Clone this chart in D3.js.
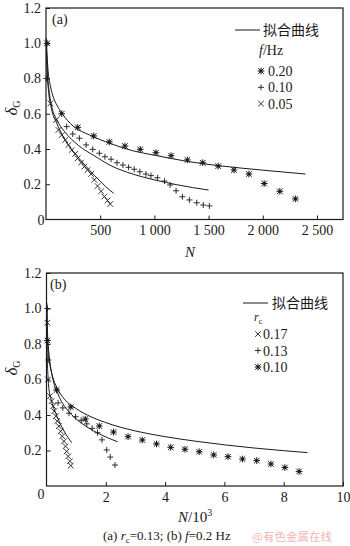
<!DOCTYPE html>
<html>
<head>
<meta charset="utf-8">
<script src="https://cdn.jsdelivr.net/npm/d3@7"></script>
<style>
  body { margin: 0; background: #fff; }
  svg { display: block; font-family: "Liberation Serif", "Times New Roman", serif; }
</style>
</head>
<body>
<svg id="chart" width="350" height="546"></svg>
<script>
// ---- Panel (a): r_c = 0.13, three loading frequencies (N in cycles) ----
const freqLabels = ["0.20", "0.10", "0.05"];
const ptsF020 = [[10,1.00],[145,0.60],[293,0.523],[440,0.474],[584,0.44],[728,0.417],[869,0.398],
  [1014,0.379],[1154,0.362],[1304,0.338],[1446,0.322],[1589,0.303],[1734,0.281],[1872,0.258],
  [2013,0.204],[2157,0.16],[2301,0.117]];
const ptsF010 = [[3,0.80],[191,0.527],[247,0.485],[308,0.461],[370,0.423],[431,0.398],[492,0.376],
  [544,0.356],[600,0.342],[655,0.322],[710,0.309],[762,0.296],[814,0.285],[866,0.271],[922,0.258],
  [968,0.249],[1028,0.237],[1093,0.218],[1145,0.196],[1200,0.163],[1258,0.129],[1323,0.111],
  [1391,0.095],[1451,0.082],[1507,0.077]];
const ptsF005 = [[41,0.659],[94,0.565],[115,0.508],[145,0.479],[177,0.451],[207,0.423],[237,0.394],
  [269,0.372],[292,0.347],[324,0.323],[354,0.300],[384,0.281],[416,0.258],[446,0.225],[476,0.19],
  [508,0.16],[538,0.13],[568,0.108],[593,0.088]];
const fitF020 = [[3,1.03],[5,1.0],[10,0.93],[20,0.84],[40,0.76],[70,0.69],[100,0.65],[150,0.60],
  [250,0.53],[400,0.48],[600,0.43],[800,0.39],[1000,0.365],[1300,0.33],[1600,0.305],[2000,0.28],[2393,0.258]];
const fitF010 = [[3,1.0],[10,0.87],[25,0.75],[50,0.65],[100,0.565],[170,0.50],[300,0.42],[450,0.36],
  [600,0.305],[750,0.268],[900,0.24],[1000,0.225],[1200,0.198],[1500,0.167]];
const fitF005 = [[3,1.0],[10,0.85],[25,0.72],[50,0.63],[100,0.545],[150,0.48],[200,0.43],[300,0.35],
  [350,0.315],[400,0.28],[450,0.248],[500,0.218],[550,0.187],[624,0.149]];
const ticksA = [500, 1000, 1500, 2000, 2500];

// ---- Panel (b): f = 0.2 Hz, three stress ratios (N in 10^3 cycles) ----
const rcLabels = ["0.17", "0.13", "0.10"];
const ptsR017 = [[0.03,0.92],[0.05,0.60],[0.115,0.507],[0.172,0.478],[0.226,0.45],[0.26,0.421],
  [0.317,0.393],[0.361,0.365],[0.418,0.337],[0.476,0.308],[0.53,0.28],[0.587,0.252],[0.644,0.224],
  [0.68,0.195],[0.73,0.167],[0.79,0.139],[0.82,0.115]];
const ptsR013 = [[0.03,1.0],[0.06,0.71],[0.39,0.468],[0.55,0.44],[0.76,0.41],[0.98,0.39],[1.17,0.37],
  [1.36,0.35],[1.54,0.325],[1.72,0.30],[1.87,0.26],[2.03,0.203],[2.15,0.163],[2.31,0.118]];
const ptsR010 = [[0.03,0.82],[0.34,0.541],[0.82,0.445],[1.31,0.377],[1.78,0.338],[2.26,0.304],
  [2.75,0.278],[3.23,0.259],[3.71,0.237],[4.19,0.218],[4.67,0.207],[5.15,0.193],[5.64,0.175],
  [6.12,0.165],[6.61,0.152],[7.09,0.143],[7.57,0.124],[8.04,0.104],[8.52,0.082]];
const fitR010 = [[0.007,1.0],[0.02,0.88],[0.05,0.78],[0.1,0.70],[0.2,0.62],[0.35,0.555],[0.6,0.49],
  [1.0,0.436],[1.5,0.39],[2,0.357],[3,0.31],[4,0.278],[5,0.253],[6,0.232],[7,0.214],[8,0.199],[8.8,0.188]];
const fitR013 = [[0.012,1.03],[0.03,0.89],[0.06,0.79],[0.1,0.72],[0.2,0.615],[0.4,0.513],[0.7,0.43],
  [1.0,0.378],[1.4,0.329],[1.8,0.292],[2.1,0.269],[2.4,0.249]];
const fitR017 = [[0.005,1.0],[0.015,0.83],[0.03,0.70],[0.05,0.62],[0.08,0.55],[0.17,0.48],[0.36,0.39],
  [0.59,0.31],[0.85,0.244]];
const ticksB = [2, 4, 6, 8, 10];

const yTicks = [0.2, 0.4, 0.6, 0.8, 1.0, 1.2];

const INK = "#1a1a1a";
const svg = d3.select("#chart");

// marker glyphs
const glyph = {
  plus: s => `M${-s},0H${s}M0,${-s}V${s}`,
  cross: s => `M${-s},${-s}L${s},${s}M${-s},${s}L${s},${-s}`,
  star: s => `M${-s},${-s}L${s},${s}M${-s},${s}L${s},${-s}M${-s*1.2},0H${s*1.2}M0,${-s*1.2}V${s*1.2}`
};

function drawMarker(g, type, x, y) {
  if (type === "star") {
    g.append("path").attr("d", glyph.star(2.8)).attr("transform", `translate(${x},${y})`)
      .attr("stroke", INK).attr("stroke-width", 1).attr("fill", "none");
    g.append("rect").attr("x", x - 1.3).attr("y", y - 1.3).attr("width", 2.6).attr("height", 2.6).attr("fill", INK);
  } else {
    g.append("path").attr("d", glyph[type](type === "plus" ? 3 : 2.8)).attr("transform", `translate(${x},${y})`)
      .attr("stroke", INK).attr("stroke-width", 0.9).attr("fill", "none");
  }
}

function panel(opt) {
  const x = d3.scaleLinear().domain(opt.xDomain).range([opt.left, opt.right]);
  const y = d3.scaleLinear().domain([0, 1.2]).range([opt.bottom, opt.top]);
  const g = svg.append("g");

  // y axis
  const ya = g.append("g").attr("transform", `translate(${opt.left},0)`)
    .call(d3.axisLeft(y).tickValues(yTicks).tickSize(-4).tickPadding(5).tickFormat(d3.format(".1f")));
  ya.select(".domain").remove();
  ya.selectAll("text").attr("font-size", 14).attr("fill", INK).attr("font-family", "Liberation Serif");
  ya.selectAll("line").attr("stroke", INK);

  // x axis
  const xa = g.append("g").attr("transform", `translate(0,${opt.bottom})`)
    .call(d3.axisBottom(x).tickValues(opt.xTicks).tickSize(-4).tickPadding(6).tickFormat(opt.xFormat));
  xa.select(".domain").remove();
  xa.selectAll("text").attr("font-size", 14).attr("fill", INK).attr("font-family", "Liberation Serif");
  xa.selectAll("line").attr("stroke", INK);

  // origin label
  g.append("text").attr("x", 41).attr("y", opt.bottom + opt.zeroDy).attr("text-anchor", "middle")
    .attr("font-size", 14).attr("fill", INK).text("0");

  // frame
  g.append("rect").attr("x", opt.left).attr("y", opt.top)
    .attr("width", opt.right - opt.left).attr("height", opt.bottom - opt.top)
    .attr("fill", "none").attr("stroke", INK).attr("stroke-width", 1.2);

  // fitted curves
  const line = d3.line().x(d => x(d[0])).y(d => y(d[1])).curve(d3.curveMonotoneX);
  opt.fits.forEach(f => {
    g.append("path").attr("d", line(f)).attr("fill", "none").attr("stroke", INK).attr("stroke-width", 1);
  });

  // measured points
  const mg = g.append("g");
  opt.series.forEach(s => s.data.forEach(d => drawMarker(mg, s.type, x(d[0]), y(d[1]))));

  // panel tag
  g.append("text").attr("x", opt.tagX).attr("y", opt.top + 16).attr("font-size", 14).attr("fill", INK).text(opt.tag);

  // y title
  const yt = g.append("text").attr("transform", `translate(17,${opt.yTitleY}) rotate(-90)`)
    .attr("text-anchor", "middle").attr("fill", INK);
  yt.append("tspan").attr("font-size", 17).attr("font-style", "italic").text("δ");
  yt.append("tspan").attr("font-size", 10).attr("dy", 3).text("G");

  return { g, x, y };
}

// Panel (a)
const pa = panel({
  xDomain: [0, 2740], left: 46, right: 343, top: 8, bottom: 219.5,
  xTicks: ticksA, xFormat: d => d >= 1000 ? d3.format(",")(d).replace(",", " ") : String(d),
  zeroDy: 5, tag: "(a)", tagX: 52, yTitleY: 108,
  fits: [fitF020, fitF010, fitF005],
  series: [{ type: "star", data: ptsF020 }, { type: "plus", data: ptsF010 }, { type: "cross", data: ptsF005 }]
});
pa.g.append("text").attr("x", 190).attr("y", 257).attr("text-anchor", "middle")
  .attr("font-size", 15).attr("font-style", "italic").attr("fill", INK).text("N");

// legend (a)
const la = svg.append("g");
la.append("line").attr("x1", 235).attr("x2", 260).attr("y1", 30).attr("y2", 30).attr("stroke", INK).attr("stroke-width", 1);
la.append("text").attr("x", 263).attr("y", 35).attr("font-size", 14).attr("font-family", "Noto Sans CJK SC")
  .attr("fill", INK).text("拟合曲线");
const fhz = la.append("text").attr("x", 259).attr("y", 55).attr("font-size", 14).attr("fill", INK);
fhz.append("tspan").attr("font-style", "italic").text("f");
fhz.append("tspan").text("/Hz");
["star", "plus", "cross"].forEach((t, i) => {
  const yy = 71 + i * 16.3;
  drawMarker(la, t, 261, yy);
  la.append("text").attr("x", 268).attr("y", yy + 5).attr("font-size", 14).attr("fill", INK).text(freqLabels[i]);
});

// Panel (b)
const pb = panel({
  xDomain: [0, 10], left: 46.5, right: 343, top: 273, bottom: 486,
  xTicks: ticksB, xFormat: d => String(d),
  zeroDy: 13, tag: "(b)", tagX: 50, yTitleY: 368,
  fits: [fitR010, fitR013, fitR017],
  series: [{ type: "star", data: ptsR010 }, { type: "plus", data: ptsR013 }, { type: "cross", data: ptsR017 }]
});
const nt = pb.g.append("text").attr("x", 178).attr("y", 522).attr("font-size", 15).attr("fill", INK);
nt.append("tspan").attr("font-style", "italic").text("N");
nt.append("tspan").text("/10");
nt.append("tspan").attr("font-size", 10).attr("dy", -6).text("3");

// legend (b)
const lb = svg.append("g");
lb.append("line").attr("x1", 243).attr("x2", 268).attr("y1", 303).attr("y2", 303).attr("stroke", INK).attr("stroke-width", 1);
lb.append("text").attr("x", 272).attr("y", 308).attr("font-size", 14).attr("font-family", "Noto Sans CJK SC")
  .attr("fill", INK).text("拟合曲线");
const rc = lb.append("text").attr("x", 254).attr("y", 321).attr("font-size", 12).attr("fill", INK);
rc.append("tspan").attr("font-style", "italic").text("r");
rc.append("tspan").attr("font-size", 8).attr("dy", 3).text("c");
["cross", "plus", "star"].forEach((t, i) => {
  const yy = 334 + i * 16.5;
  drawMarker(lb, t, 258, yy);
  lb.append("text").attr("x", 263).attr("y", yy + 5).attr("font-size", 14).attr("fill", INK).text(rcLabels[i]);
});

// caption
const cap = svg.append("text").attr("x", 103).attr("y", 540).attr("font-size", 13).attr("fill", INK);
cap.append("tspan").text("(a) ");
cap.append("tspan").attr("font-style", "italic").text("r");
cap.append("tspan").attr("font-size", 9).attr("dy", 3).text("c");
cap.append("tspan").attr("dy", -3).text("=0.13; (b) ");
cap.append("tspan").attr("font-style", "italic").text("f");
cap.append("tspan").text("=0.2 Hz");

svg.append("text").attr("x", 252).attr("y", 541).attr("font-size", 11.5)
  .attr("font-family", "Noto Sans CJK SC").attr("fill", "#f2b6b6").text("@有色金属在线");
</script>
</body>
</html>
